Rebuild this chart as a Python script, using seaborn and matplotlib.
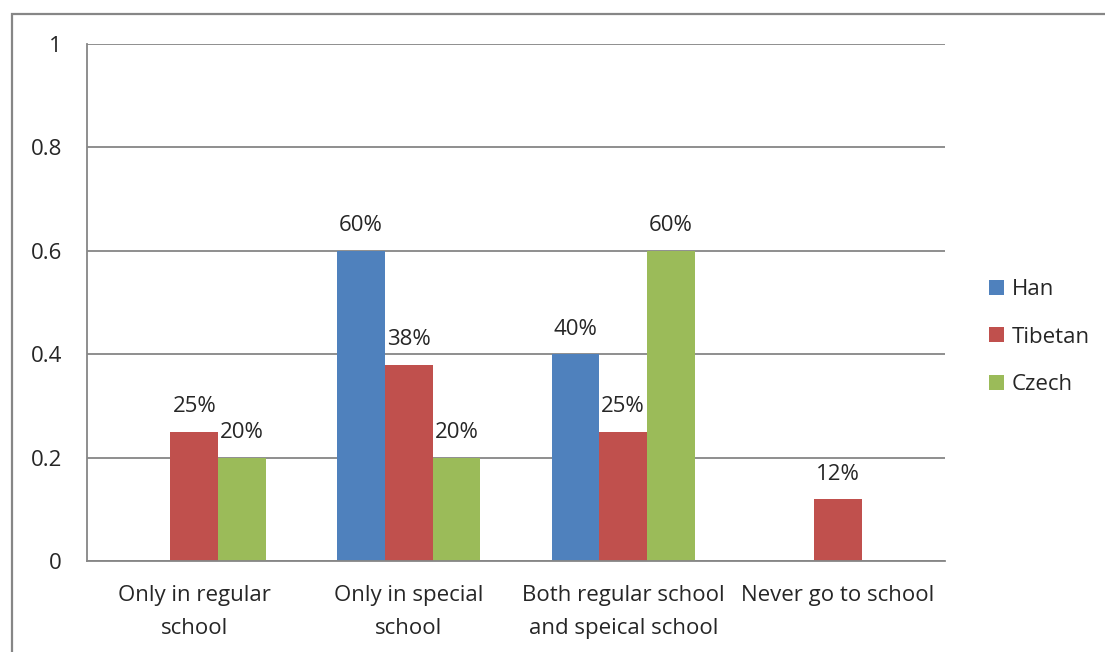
import matplotlib
matplotlib.use("Agg")
import matplotlib.pyplot as plt
import seaborn as sns
import pandas as pd
from matplotlib.patches import Rectangle

categories = ["Only in regular\nschool", "Only in special\nschool",
              "Both regular school\nand speical school", "Never go to school"]
groups = ["Han", "Tibetan", "Czech"]
han = [0.0, 0.60, 0.40, 0.0]
tibetan = [0.25, 0.38, 0.25, 0.12]
czech = [0.20, 0.20, 0.60, 0.0]
yticks = [0, 0.2, 0.4, 0.6, 0.8, 1]
ytick_labels = ["0", "0.2", "0.4", "0.6", "0.8", "1"]
colors = ["#4F81BD", "#C0504D", "#9BBB59"]

rows = []
for g, vals in zip(groups, [han, tibetan, czech]):
    for c, v in zip(categories, vals):
        rows.append({"cat": c, "grp": g, "val": v})
df = pd.DataFrame(rows)

sns.set_style("white")
plt.rcParams['font.family'] = ['Open Sans', 'DejaVu Sans']
FS = 16

fig = plt.figure(figsize=(11.05, 6.52), dpi=100)
ax = fig.add_axes([87/1105, 1-561/652, (945-87)/1105, (561-44)/652])

sns.barplot(data=df, x="cat", y="val", hue="grp", palette=colors,
            width=0.667, saturation=1, ax=ax, order=categories, hue_order=groups,
            linewidth=0, errorbar=None)

ax.set_ylim(0, 1)
ax.set_xlim(-0.5, 3.5)
ax.set_yticks(yticks)
ax.set_yticklabels(ytick_labels, fontsize=FS)
ax.set_xticks(range(len(categories)))
ax.set_xticklabels(categories, fontsize=FS, linespacing=1.8)
ax.tick_params(axis='x', which='major', length=0, pad=17)
ax.set_xticks([i - 0.5 for i in range(len(categories) + 1)], minor=True)
ax.tick_params(axis='x', which='minor', length=6, width=1.3, color="#868686", direction='out')
ax.tick_params(axis='y', length=6, width=1.3, color="#868686", direction='out', pad=12)
ax.set_xlabel("")
ax.set_ylabel("")
ax.grid(axis='y', color="#868686", linewidth=1.3)
ax.set_axisbelow(True)
for s in ["top", "right"]:
    ax.spines[s].set_visible(False)
for s in ["left", "bottom"]:
    ax.spines[s].set_color("#868686")
    ax.spines[s].set_linewidth(1.3)

for cont in ax.containers:
    for bar in cont:
        h = bar.get_height()
        if h > 0:
            ax.annotate(f"{round(h*100):d}%", (bar.get_x() + bar.get_width()/2, h),
                        xytext=(0, 14), textcoords="offset points",
                        ha="center", va="baseline", fontsize=FS)

leg = ax.legend(loc="center left", bbox_to_anchor=(1.051, 0.433), frameon=False,
                fontsize=FS, handlelength=0.68, handleheight=0.68, handletextpad=0.35,
                labelspacing=1.2, borderpad=0, borderaxespad=0)

fig.patches.append(Rectangle((12/1105, -0.1), 1.2, 1 - 14/652 + 0.1,
                             transform=fig.transFigure, fill=False,
                             edgecolor="#868686", linewidth=1.6))

fig.savefig("out.png", dpi=100)
